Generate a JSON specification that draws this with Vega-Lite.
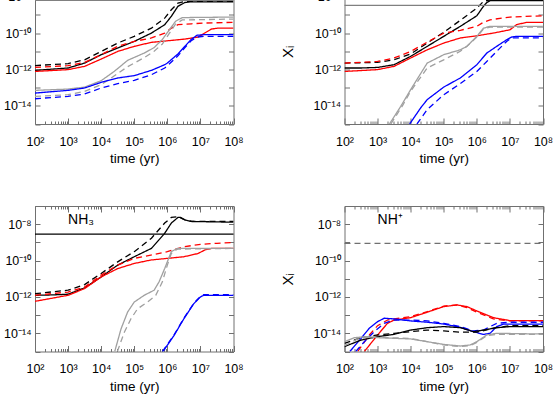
{
"$schema": "https://vega.github.io/schema/vega-lite/v6.json",
"autosize": {"type": "pad"},
"padding": {"left": 3, "top": -28.5, "right": 0, "bottom": 0},
"config": {"view": {"stroke": "#707070", "strokeWidth": 1}, "font": "Liberation Sans", "axis": {"titleFontWeight": "normal", "titleFont": "Liberation Sans", "labelFont": "Liberation Sans"}},
"datasets": {
"species": [
{"panel":"NH","species":"NH","Xobs":6.31e-9},
{"panel":"NH2","species":"NH₂","Xobs":3.31e-9},
{"panel":"NH3","species":"NH₃","Xobs":2.82e-9},
{"panel":"NH+","species":"NH⁺","Xobs":8.71e-10}
],
"curves": [
{"panel":"NH","model":"A","run":"a","t":100,"X":8.91e-13},{"panel":"NH","model":"A","run":"a","t":1000,"X":1.2e-12},{"panel":"NH","model":"A","run":"a","t":3162,"X":2.24e-12},{"panel":"NH","model":"A","run":"a","t":10000,"X":6.46e-12},{"panel":"NH","model":"A","run":"a","t":31623,"X":1.51e-11},{"panel":"NH","model":"A","run":"a","t":100000,"X":3.47e-11},{"panel":"NH","model":"A","run":"a","t":331000,"X":1e-10},{"panel":"NH","model":"A","run":"a","t":832000,"X":2.88e-10},{"panel":"NH","model":"A","run":"a","t":1320000,"X":8.32e-10},{"panel":"NH","model":"A","run":"a","t":2090000,"X":2.95e-9},{"panel":"NH","model":"A","run":"a","t":3390000,"X":4.79e-9},{"panel":"NH","model":"A","run":"a","t":5370000,"X":5.25e-9},{"panel":"NH","model":"A","run":"a","t":100000000,"X":5.25e-9},
{"panel":"NH","model":"A","run":"b","t":100,"X":1.62e-12},{"panel":"NH","model":"A","run":"b","t":1000,"X":2.09e-12},{"panel":"NH","model":"A","run":"b","t":3162,"X":3.39e-12},{"panel":"NH","model":"A","run":"b","t":10000,"X":9.77e-12},{"panel":"NH","model":"A","run":"b","t":31623,"X":2.82e-11},{"panel":"NH","model":"A","run":"b","t":100000,"X":6.61e-11},{"panel":"NH","model":"A","run":"b","t":331000,"X":1.86e-10},{"panel":"NH","model":"A","run":"b","t":832000,"X":6.61e-10},{"panel":"NH","model":"A","run":"b","t":1320000,"X":1.91e-9},{"panel":"NH","model":"A","run":"b","t":2090000,"X":4.47e-9},{"panel":"NH","model":"A","run":"b","t":3390000,"X":5.5e-9},{"panel":"NH","model":"A","run":"b","t":100000000,"X":5.5e-9},
{"panel":"NH","model":"B","run":"a","t":100,"X":7.76e-13},{"panel":"NH","model":"B","run":"a","t":1000,"X":9.77e-13},{"panel":"NH","model":"B","run":"a","t":3162,"X":1.48e-12},{"panel":"NH","model":"B","run":"a","t":10000,"X":3.72e-12},{"panel":"NH","model":"B","run":"a","t":31623,"X":9.77e-12},{"panel":"NH","model":"B","run":"a","t":100000,"X":1.86e-11},{"panel":"NH","model":"B","run":"a","t":331000,"X":3.09e-11},{"panel":"NH","model":"B","run":"a","t":832000,"X":3.63e-11},{"panel":"NH","model":"B","run":"a","t":3390000,"X":4.68e-11},{"panel":"NH","model":"B","run":"a","t":8510000,"X":6.03e-11},{"panel":"NH","model":"B","run":"a","t":13500000,"X":1e-10},{"panel":"NH","model":"B","run":"a","t":21400000,"X":1.66e-10},{"panel":"NH","model":"B","run":"a","t":33900000,"X":1.86e-10},{"panel":"NH","model":"B","run":"a","t":100000000,"X":1.86e-10},
{"panel":"NH","model":"B","run":"b","t":100,"X":1.29e-12},{"panel":"NH","model":"B","run":"b","t":1000,"X":1.62e-12},{"panel":"NH","model":"B","run":"b","t":3162,"X":2.45e-12},{"panel":"NH","model":"B","run":"b","t":10000,"X":6.46e-12},{"panel":"NH","model":"B","run":"b","t":31623,"X":1.86e-11},{"panel":"NH","model":"B","run":"b","t":100000,"X":3.47e-11},{"panel":"NH","model":"B","run":"b","t":331000,"X":5.37e-11},{"panel":"NH","model":"B","run":"b","t":832000,"X":1e-10},{"panel":"NH","model":"B","run":"b","t":1320000,"X":1.86e-10},{"panel":"NH","model":"B","run":"b","t":2090000,"X":2.88e-10},{"panel":"NH","model":"B","run":"b","t":5370000,"X":3.24e-10},{"panel":"NH","model":"B","run":"b","t":13500000,"X":3.55e-10},{"panel":"NH","model":"B","run":"b","t":100000000,"X":3.89e-10},
{"panel":"NH","model":"C","run":"a","t":100,"X":7.08e-14},{"panel":"NH","model":"C","run":"a","t":1000,"X":8.32e-14},{"panel":"NH","model":"C","run":"a","t":3162,"X":1.07e-13},{"panel":"NH","model":"C","run":"a","t":10000,"X":2.4e-13},{"panel":"NH","model":"C","run":"a","t":25119,"X":7.94e-13},{"panel":"NH","model":"C","run":"a","t":63096,"X":3.16e-12},{"panel":"NH","model":"C","run":"a","t":199526,"X":7.94e-12},{"panel":"NH","model":"C","run":"a","t":398107,"X":1.58e-11},{"panel":"NH","model":"C","run":"a","t":707946,"X":4.47e-11},{"panel":"NH","model":"C","run":"a","t":1120000,"X":1.41e-10},{"panel":"NH","model":"C","run":"a","t":1780000,"X":4.47e-10},{"panel":"NH","model":"C","run":"a","t":2820000,"X":7.08e-10},{"panel":"NH","model":"C","run":"a","t":100000000,"X":7.59e-10},
{"panel":"NH","model":"C","run":"b","t":100,"X":3.31e-14},{"panel":"NH","model":"C","run":"b","t":1000,"X":4.07e-14},{"panel":"NH","model":"C","run":"b","t":3162,"X":6.17e-14},{"panel":"NH","model":"C","run":"b","t":10000,"X":1.45e-13},{"panel":"NH","model":"C","run":"b","t":25119,"X":4.47e-13},{"panel":"NH","model":"C","run":"b","t":63096,"X":1.41e-12},{"panel":"NH","model":"C","run":"b","t":199526,"X":4.47e-12},{"panel":"NH","model":"C","run":"b","t":398107,"X":1e-11},{"panel":"NH","model":"C","run":"b","t":707946,"X":2.51e-11},{"panel":"NH","model":"C","run":"b","t":1120000,"X":8.91e-11},{"panel":"NH","model":"C","run":"b","t":1780000,"X":3.16e-10},{"panel":"NH","model":"C","run":"b","t":2820000,"X":5.25e-10},{"panel":"NH","model":"C","run":"b","t":100000000,"X":5.89e-10},
{"panel":"NH","model":"D","run":"a","t":100,"X":5.01e-14},{"panel":"NH","model":"D","run":"a","t":1000,"X":7.08e-14},{"panel":"NH","model":"D","run":"a","t":3162,"X":9.55e-14},{"panel":"NH","model":"D","run":"a","t":10000,"X":1.95e-13},{"panel":"NH","model":"D","run":"a","t":31623,"X":3.39e-13},{"panel":"NH","model":"D","run":"a","t":100000,"X":4.57e-13},{"panel":"NH","model":"D","run":"a","t":331000,"X":8.91e-13},{"panel":"NH","model":"D","run":"a","t":832000,"X":1.82e-12},{"panel":"NH","model":"D","run":"a","t":1000000,"X":2.24e-12},{"panel":"NH","model":"D","run":"a","t":2090000,"X":7.08e-12},{"panel":"NH","model":"D","run":"a","t":3310000,"X":1.78e-11},{"panel":"NH","model":"D","run":"a","t":5250000,"X":4.47e-11},{"panel":"NH","model":"D","run":"a","t":7940000,"X":7.59e-11},{"panel":"NH","model":"D","run":"a","t":12600000,"X":8.13e-11},{"panel":"NH","model":"D","run":"a","t":100000000,"X":8.13e-11},
{"panel":"NH","model":"D","run":"b","t":100,"X":2.45e-14},{"panel":"NH","model":"D","run":"b","t":1000,"X":3.31e-14},{"panel":"NH","model":"D","run":"b","t":3162,"X":4.47e-14},{"panel":"NH","model":"D","run":"b","t":10000,"X":9.55e-14},{"panel":"NH","model":"D","run":"b","t":31623,"X":1.66e-13},{"panel":"NH","model":"D","run":"b","t":100000,"X":2.51e-13},{"panel":"NH","model":"D","run":"b","t":331000,"X":5.13e-13},{"panel":"NH","model":"D","run":"b","t":832000,"X":1.2e-12},{"panel":"NH","model":"D","run":"b","t":1000000,"X":1.58e-12},{"panel":"NH","model":"D","run":"b","t":2090000,"X":5.62e-12},{"panel":"NH","model":"D","run":"b","t":3310000,"X":1.51e-11},{"panel":"NH","model":"D","run":"b","t":5250000,"X":3.8e-11},{"panel":"NH","model":"D","run":"b","t":7940000,"X":6.03e-11},{"panel":"NH","model":"D","run":"b","t":12600000,"X":6.61e-11},{"panel":"NH","model":"D","run":"b","t":100000000,"X":6.61e-11},

{"panel":"NH2","model":"A","run":"a","t":100,"X":1.2e-12},{"panel":"NH2","model":"A","run":"a","t":316,"X":1.2e-12},{"panel":"NH2","model":"A","run":"a","t":1000,"X":1.29e-12},{"panel":"NH2","model":"A","run":"a","t":3162,"X":1.82e-12},{"panel":"NH2","model":"A","run":"a","t":10000,"X":5.25e-12},{"panel":"NH2","model":"A","run":"a","t":31623,"X":1.86e-11},{"panel":"NH2","model":"A","run":"a","t":100000,"X":6.61e-11},{"panel":"NH2","model":"A","run":"a","t":316228,"X":2.34e-10},{"panel":"NH2","model":"A","run":"a","t":1000000,"X":8.91e-10},{"panel":"NH2","model":"A","run":"a","t":1580000,"X":2.95e-9},{"panel":"NH2","model":"A","run":"a","t":2000000,"X":4.79e-9},{"panel":"NH2","model":"A","run":"a","t":2510000,"X":6.03e-9},{"panel":"NH2","model":"A","run":"a","t":100000000,"X":6.03e-9},
{"panel":"NH2","model":"A","run":"b","t":100,"X":2.24e-12},{"panel":"NH2","model":"A","run":"b","t":1000,"X":2.45e-12},{"panel":"NH2","model":"A","run":"b","t":3162,"X":3.39e-12},{"panel":"NH2","model":"A","run":"b","t":10000,"X":7.08e-12},{"panel":"NH2","model":"A","run":"b","t":31623,"X":2.82e-11},{"panel":"NH2","model":"A","run":"b","t":100000,"X":1.1e-10},{"panel":"NH2","model":"A","run":"b","t":316228,"X":5.01e-10},{"panel":"NH2","model":"A","run":"b","t":1000000,"X":2.34e-9},{"panel":"NH2","model":"A","run":"b","t":1580000,"X":5.5e-9},{"panel":"NH2","model":"A","run":"b","t":2510000,"X":6.76e-9},{"panel":"NH2","model":"A","run":"b","t":100000000,"X":6.76e-9},
{"panel":"NH2","model":"B","run":"a","t":100,"X":7.76e-13},{"panel":"NH2","model":"B","run":"a","t":1000,"X":9.77e-13},{"panel":"NH2","model":"B","run":"a","t":3162,"X":1.48e-12},{"panel":"NH2","model":"B","run":"a","t":10000,"X":4.27e-12},{"panel":"NH2","model":"B","run":"a","t":31623,"X":1.2e-11},{"panel":"NH2","model":"B","run":"a","t":100000,"X":2.82e-11},{"panel":"NH2","model":"B","run":"a","t":316228,"X":5.37e-11},{"panel":"NH2","model":"B","run":"a","t":1000000,"X":7.08e-11},{"panel":"NH2","model":"B","run":"a","t":3160000,"X":1e-10},{"panel":"NH2","model":"B","run":"a","t":10000000,"X":1.51e-10},{"panel":"NH2","model":"B","run":"a","t":15800000,"X":2.88e-10},{"panel":"NH2","model":"B","run":"a","t":31600000,"X":3.89e-10},{"panel":"NH2","model":"B","run":"a","t":100000000,"X":3.89e-10},
{"panel":"NH2","model":"B","run":"b","t":100,"X":2.24e-12},{"panel":"NH2","model":"B","run":"b","t":1000,"X":2.75e-12},{"panel":"NH2","model":"B","run":"b","t":3162,"X":4.27e-12},{"panel":"NH2","model":"B","run":"b","t":10000,"X":9.77e-12},{"panel":"NH2","model":"B","run":"b","t":31623,"X":3.16e-11},{"panel":"NH2","model":"B","run":"b","t":100000,"X":1e-10},{"panel":"NH2","model":"B","run":"b","t":316228,"X":1.41e-10},{"panel":"NH2","model":"B","run":"b","t":1000000,"X":2.34e-10},{"panel":"NH2","model":"B","run":"b","t":1580000,"X":3.89e-10},{"panel":"NH2","model":"B","run":"b","t":2510000,"X":5.37e-10},{"panel":"NH2","model":"B","run":"b","t":10000000,"X":7.59e-10},{"panel":"NH2","model":"B","run":"b","t":100000000,"X":8.91e-10},
{"panel":"NH2","model":"C","run":"a","t":2291,"X":1e-15},{"panel":"NH2","model":"C","run":"a","t":5012,"X":9.33e-15},{"panel":"NH2","model":"C","run":"a","t":10000,"X":7.76e-14},{"panel":"NH2","model":"C","run":"a","t":31623,"X":2.24e-12},{"panel":"NH2","model":"C","run":"a","t":100000,"X":6.46e-12},{"panel":"NH2","model":"C","run":"a","t":316228,"X":1.2e-11},{"panel":"NH2","model":"C","run":"a","t":501187,"X":1.86e-11},{"panel":"NH2","model":"C","run":"a","t":1000000,"X":6.61e-11},{"panel":"NH2","model":"C","run":"a","t":1580000,"X":1.86e-10},{"panel":"NH2","model":"C","run":"a","t":2510000,"X":2.34e-10},{"panel":"NH2","model":"C","run":"a","t":100000000,"X":2.34e-10},
{"panel":"NH2","model":"C","run":"b","t":2512,"X":1e-15},{"panel":"NH2","model":"C","run":"b","t":5623,"X":1e-14},{"panel":"NH2","model":"C","run":"b","t":10000,"X":6.31e-14},{"panel":"NH2","model":"C","run":"b","t":31623,"X":1.2e-12},{"panel":"NH2","model":"C","run":"b","t":100000,"X":3.39e-12},{"panel":"NH2","model":"C","run":"b","t":316228,"X":1e-11},{"panel":"NH2","model":"C","run":"b","t":501187,"X":1.86e-11},{"panel":"NH2","model":"C","run":"b","t":1000000,"X":6.03e-11},{"panel":"NH2","model":"C","run":"b","t":1580000,"X":1.66e-10},{"panel":"NH2","model":"C","run":"b","t":2510000,"X":2.14e-10},{"panel":"NH2","model":"C","run":"b","t":100000000,"X":2.14e-10},
{"panel":"NH2","model":"D","run":"a","t":9333,"X":1e-15},{"panel":"NH2","model":"D","run":"a","t":19953,"X":7.59e-15},{"panel":"NH2","model":"D","run":"a","t":31623,"X":2.19e-14},{"panel":"NH2","model":"D","run":"a","t":100000,"X":1.07e-13},{"panel":"NH2","model":"D","run":"a","t":316228,"X":3.39e-13},{"panel":"NH2","model":"D","run":"a","t":1000000,"X":1.82e-12},{"panel":"NH2","model":"D","run":"a","t":2000000,"X":7.94e-12},{"panel":"NH2","model":"D","run":"a","t":3980000,"X":1.86e-11},{"panel":"NH2","model":"D","run":"a","t":7940000,"X":4.27e-11},{"panel":"NH2","model":"D","run":"a","t":11200000,"X":6.03e-11},{"panel":"NH2","model":"D","run":"a","t":15800000,"X":6.61e-11},{"panel":"NH2","model":"D","run":"a","t":100000000,"X":6.61e-11},
{"panel":"NH2","model":"D","run":"b","t":15488,"X":1e-15},{"panel":"NH2","model":"D","run":"b","t":31623,"X":6.17e-15},{"panel":"NH2","model":"D","run":"b","t":100000,"X":4.07e-14},{"panel":"NH2","model":"D","run":"b","t":316228,"X":1.66e-13},{"panel":"NH2","model":"D","run":"b","t":1000000,"X":7.76e-13},{"panel":"NH2","model":"D","run":"b","t":2000000,"X":2.75e-12},{"panel":"NH2","model":"D","run":"b","t":3980000,"X":9.77e-12},{"panel":"NH2","model":"D","run":"b","t":7940000,"X":3.47e-11},{"panel":"NH2","model":"D","run":"b","t":11200000,"X":5.37e-11},{"panel":"NH2","model":"D","run":"b","t":100000000,"X":5.37e-11},

{"panel":"NH3","model":"A","run":"a","t":100,"X":1.23e-12},{"panel":"NH3","model":"A","run":"a","t":316,"X":1.29e-12},{"panel":"NH3","model":"A","run":"a","t":1000,"X":1.41e-12},{"panel":"NH3","model":"A","run":"a","t":3162,"X":3.16e-12},{"panel":"NH3","model":"A","run":"a","t":10000,"X":1.26e-11},{"panel":"NH3","model":"A","run":"a","t":31623,"X":5.62e-11},{"panel":"NH3","model":"A","run":"a","t":100000,"X":1.62e-10},{"panel":"NH3","model":"A","run":"a","t":331000,"X":4.68e-10},{"panel":"NH3","model":"A","run":"a","t":832000,"X":3.16e-9},{"panel":"NH3","model":"A","run":"a","t":1320000,"X":1.15e-8},{"panel":"NH3","model":"A","run":"a","t":2090000,"X":2.34e-8},{"panel":"NH3","model":"A","run":"a","t":2510000,"X":2.34e-8},{"panel":"NH3","model":"A","run":"a","t":3390000,"X":1.74e-8},{"panel":"NH3","model":"A","run":"a","t":5370000,"X":1.41e-8},{"panel":"NH3","model":"A","run":"a","t":100000000,"X":1.29e-8},
{"panel":"NH3","model":"A","run":"b","t":100,"X":1.51e-12},{"panel":"NH3","model":"A","run":"b","t":1000,"X":2.34e-12},{"panel":"NH3","model":"A","run":"b","t":3162,"X":4.79e-12},{"panel":"NH3","model":"A","run":"b","t":10000,"X":1.95e-11},{"panel":"NH3","model":"A","run":"b","t":31623,"X":8.51e-11},{"panel":"NH3","model":"A","run":"b","t":100000,"X":3.09e-10},{"panel":"NH3","model":"A","run":"b","t":331000,"X":1.7e-9},{"panel":"NH3","model":"A","run":"b","t":832000,"X":1.15e-8},{"panel":"NH3","model":"A","run":"b","t":1320000,"X":2.34e-8},{"panel":"NH3","model":"A","run":"b","t":2090000,"X":2.57e-8},{"panel":"NH3","model":"A","run":"b","t":3390000,"X":1.74e-8},{"panel":"NH3","model":"A","run":"b","t":5370000,"X":1.41e-8},{"panel":"NH3","model":"A","run":"b","t":100000000,"X":1.41e-8},
{"panel":"NH3","model":"B","run":"a","t":100,"X":5.75e-13},{"panel":"NH3","model":"B","run":"a","t":1000,"X":1.23e-12},{"panel":"NH3","model":"B","run":"a","t":3162,"X":2.88e-12},{"panel":"NH3","model":"B","run":"a","t":10000,"X":1.26e-11},{"panel":"NH3","model":"B","run":"a","t":31623,"X":3.63e-11},{"panel":"NH3","model":"B","run":"a","t":100000,"X":6.92e-11},{"panel":"NH3","model":"B","run":"a","t":316228,"X":1.07e-10},{"panel":"NH3","model":"B","run":"a","t":1000000,"X":1.32e-10},{"panel":"NH3","model":"B","run":"a","t":3160000,"X":1.62e-10},{"panel":"NH3","model":"B","run":"a","t":8510000,"X":2.45e-10},{"panel":"NH3","model":"B","run":"a","t":13500000,"X":3.8e-10},{"panel":"NH3","model":"B","run":"a","t":21400000,"X":4.68e-10},{"panel":"NH3","model":"B","run":"a","t":100000000,"X":4.68e-10},
{"panel":"NH3","model":"B","run":"b","t":100,"X":1.23e-12},{"panel":"NH3","model":"B","run":"b","t":1000,"X":1.86e-12},{"panel":"NH3","model":"B","run":"b","t":3162,"X":3.55e-12},{"panel":"NH3","model":"B","run":"b","t":10000,"X":1.58e-11},{"panel":"NH3","model":"B","run":"b","t":31623,"X":5.62e-11},{"panel":"NH3","model":"B","run":"b","t":100000,"X":1.32e-10},{"panel":"NH3","model":"B","run":"b","t":316228,"X":2e-10},{"panel":"NH3","model":"B","run":"b","t":1000000,"X":3.09e-10},{"panel":"NH3","model":"B","run":"b","t":3160000,"X":5.75e-10},{"panel":"NH3","model":"B","run":"b","t":10000000,"X":7.76e-10},{"panel":"NH3","model":"B","run":"b","t":31600000,"X":8.91e-10},{"panel":"NH3","model":"B","run":"b","t":100000000,"X":9.77e-10},
{"panel":"NH3","model":"C","run":"a","t":25704,"X":1e-15},{"panel":"NH3","model":"C","run":"a","t":39811,"X":1.74e-14},{"panel":"NH3","model":"C","run":"a","t":63096,"X":1.48e-13},{"panel":"NH3","model":"C","run":"a","t":100000,"X":5.25e-13},{"panel":"NH3","model":"C","run":"a","t":199526,"X":1.23e-12},{"panel":"NH3","model":"C","run":"a","t":398107,"X":2.34e-12},{"panel":"NH3","model":"C","run":"a","t":562341,"X":6.76e-12},{"panel":"NH3","model":"C","run":"a","t":832000,"X":3.63e-11},{"panel":"NH3","model":"C","run":"a","t":1320000,"X":3.09e-10},{"panel":"NH3","model":"C","run":"a","t":2000000,"X":4.68e-10},{"panel":"NH3","model":"C","run":"a","t":100000000,"X":4.68e-10},
{"panel":"NH3","model":"C","run":"b","t":30903,"X":1e-15},{"panel":"NH3","model":"C","run":"b","t":50119,"X":1.15e-14},{"panel":"NH3","model":"C","run":"b","t":79433,"X":6.31e-14},{"panel":"NH3","model":"C","run":"b","t":125893,"X":2.24e-13},{"panel":"NH3","model":"C","run":"b","t":251189,"X":5.25e-13},{"panel":"NH3","model":"C","run":"b","t":446684,"X":1.23e-12},{"panel":"NH3","model":"C","run":"b","t":707946,"X":6.76e-12},{"panel":"NH3","model":"C","run":"b","t":1000000,"X":5.62e-11},{"panel":"NH3","model":"C","run":"b","t":1320000,"X":2.45e-10},{"panel":"NH3","model":"C","run":"b","t":2000000,"X":4.27e-10},{"panel":"NH3","model":"C","run":"b","t":100000000,"X":4.68e-10},
{"panel":"NH3","model":"D","run":"a","t":741310,"X":1e-15},{"panel":"NH3","model":"D","run":"a","t":1580000,"X":7.41e-15},{"panel":"NH3","model":"D","run":"a","t":3160000,"X":6.31e-14},{"panel":"NH3","model":"D","run":"a","t":6310000,"X":4.27e-13},{"panel":"NH3","model":"D","run":"a","t":10000000,"X":1e-12},{"panel":"NH3","model":"D","run":"a","t":12600000,"X":1.23e-12},{"panel":"NH3","model":"D","run":"a","t":100000000,"X":1.23e-12},
{"panel":"NH3","model":"D","run":"b","t":707946,"X":1e-15},{"panel":"NH3","model":"D","run":"b","t":1580000,"X":7.94e-15},{"panel":"NH3","model":"D","run":"b","t":3160000,"X":6.76e-14},{"panel":"NH3","model":"D","run":"b","t":6310000,"X":4.47e-13},{"panel":"NH3","model":"D","run":"b","t":10000000,"X":1.07e-12},{"panel":"NH3","model":"D","run":"b","t":12600000,"X":1.32e-12},{"panel":"NH3","model":"D","run":"b","t":100000000,"X":1.32e-12},

{"panel":"NH+","model":"B","run":"a","t":398,"X":1e-15},{"panel":"NH+","model":"B","run":"a","t":1000,"X":8.13e-15},{"panel":"NH+","model":"B","run":"a","t":1995,"X":3.55e-14},{"panel":"NH+","model":"B","run":"a","t":3162,"X":5.37e-14},{"panel":"NH+","model":"B","run":"a","t":10000,"X":7.24e-14},{"panel":"NH+","model":"B","run":"a","t":31623,"X":1.45e-13},{"panel":"NH+","model":"B","run":"a","t":100000,"X":2.95e-13},{"panel":"NH+","model":"B","run":"a","t":251189,"X":3.63e-13},{"panel":"NH+","model":"B","run":"a","t":501187,"X":2.95e-13},{"panel":"NH+","model":"B","run":"a","t":1000000,"X":1.7e-13},{"panel":"NH+","model":"B","run":"a","t":3160000,"X":7.24e-14},{"panel":"NH+","model":"B","run":"a","t":10000000,"X":5.01e-14},{"panel":"NH+","model":"B","run":"a","t":100000000,"X":5.01e-14},
{"panel":"NH+","model":"B","run":"b","t":251,"X":1e-15},{"panel":"NH+","model":"B","run":"b","t":562,"X":8.13e-15},{"panel":"NH+","model":"B","run":"b","t":1000,"X":2.63e-14},{"panel":"NH+","model":"B","run":"b","t":1995,"X":5.37e-14},{"panel":"NH+","model":"B","run":"b","t":3162,"X":6.17e-14},{"panel":"NH+","model":"B","run":"b","t":10000,"X":8.32e-14},{"panel":"NH+","model":"B","run":"b","t":31623,"X":1.55e-13},{"panel":"NH+","model":"B","run":"b","t":100000,"X":3.16e-13},{"panel":"NH+","model":"B","run":"b","t":251189,"X":3.63e-13},{"panel":"NH+","model":"B","run":"b","t":501187,"X":2.57e-13},{"panel":"NH+","model":"B","run":"b","t":1000000,"X":1.45e-13},{"panel":"NH+","model":"B","run":"b","t":3160000,"X":6.17e-14},{"panel":"NH+","model":"B","run":"b","t":10000000,"X":4.79e-14},{"panel":"NH+","model":"B","run":"b","t":100000000,"X":4.79e-14},
{"panel":"NH+","model":"D","run":"a","t":145,"X":1e-15},{"panel":"NH+","model":"D","run":"a","t":316,"X":5.25e-15},{"panel":"NH+","model":"D","run":"a","t":562,"X":1.91e-14},{"panel":"NH+","model":"D","run":"a","t":1000,"X":4.37e-14},{"panel":"NH+","model":"D","run":"a","t":1585,"X":6.76e-14},{"panel":"NH+","model":"D","run":"a","t":3162,"X":6.17e-14},{"panel":"NH+","model":"D","run":"a","t":10000,"X":4.79e-14},{"panel":"NH+","model":"D","run":"a","t":31623,"X":4.07e-14},{"panel":"NH+","model":"D","run":"a","t":100000,"X":3.24e-14},{"panel":"NH+","model":"D","run":"a","t":316228,"X":2.14e-14},{"panel":"NH+","model":"D","run":"a","t":794328,"X":1.23e-14},{"panel":"NH+","model":"D","run":"a","t":1580000,"X":8.71e-15},{"panel":"NH+","model":"D","run":"a","t":2510000,"X":1e-14},{"panel":"NH+","model":"D","run":"a","t":3980000,"X":2.34e-14},{"panel":"NH+","model":"D","run":"a","t":6310000,"X":3.16e-14},{"panel":"NH+","model":"D","run":"a","t":100000000,"X":3.16e-14},
{"panel":"NH+","model":"D","run":"b","t":219,"X":1e-15},{"panel":"NH+","model":"D","run":"b","t":398,"X":3.47e-15},{"panel":"NH+","model":"D","run":"b","t":794,"X":1.23e-14},{"panel":"NH+","model":"D","run":"b","t":1585,"X":3.55e-14},{"panel":"NH+","model":"D","run":"b","t":3162,"X":5.37e-14},{"panel":"NH+","model":"D","run":"b","t":10000,"X":5.37e-14},{"panel":"NH+","model":"D","run":"b","t":31623,"X":4.79e-14},{"panel":"NH+","model":"D","run":"b","t":100000,"X":3.55e-14},{"panel":"NH+","model":"D","run":"b","t":316228,"X":2.34e-14},{"panel":"NH+","model":"D","run":"b","t":794328,"X":1.35e-14},{"panel":"NH+","model":"D","run":"b","t":1580000,"X":1.51e-14},{"panel":"NH+","model":"D","run":"b","t":2510000,"X":2.34e-14},{"panel":"NH+","model":"D","run":"b","t":3980000,"X":3.55e-14},{"panel":"NH+","model":"D","run":"b","t":10000000,"X":4.07e-14},{"panel":"NH+","model":"D","run":"b","t":100000000,"X":4.07e-14},
{"panel":"NH+","model":"A","run":"a","t":100,"X":1.86e-15},{"panel":"NH+","model":"A","run":"a","t":316,"X":4.27e-15},{"panel":"NH+","model":"A","run":"a","t":1000,"X":6.61e-15},{"panel":"NH+","model":"A","run":"a","t":3162,"X":8.71e-15},{"panel":"NH+","model":"A","run":"a","t":10000,"X":1.51e-14},{"panel":"NH+","model":"A","run":"a","t":31623,"X":2.04e-14},{"panel":"NH+","model":"A","run":"a","t":100000,"X":2.34e-14},{"panel":"NH+","model":"A","run":"a","t":316228,"X":2.04e-14},{"panel":"NH+","model":"A","run":"a","t":794328,"X":1.23e-14},{"panel":"NH+","model":"A","run":"a","t":1580000,"X":1.51e-14},{"panel":"NH+","model":"A","run":"a","t":3980000,"X":2.04e-14},{"panel":"NH+","model":"A","run":"a","t":10000000,"X":2.34e-14},{"panel":"NH+","model":"A","run":"a","t":100000000,"X":2.34e-14},
{"panel":"NH+","model":"A","run":"b","t":100,"X":2.82e-15},{"panel":"NH+","model":"A","run":"b","t":316,"X":5.75e-15},{"panel":"NH+","model":"A","run":"b","t":1000,"X":8.13e-15},{"panel":"NH+","model":"A","run":"b","t":3162,"X":1e-14},{"panel":"NH+","model":"A","run":"b","t":10000,"X":1.23e-14},{"panel":"NH+","model":"A","run":"b","t":31623,"X":1.51e-14},{"panel":"NH+","model":"A","run":"b","t":100000,"X":1.35e-14},{"panel":"NH+","model":"A","run":"b","t":316228,"X":1.15e-14},{"panel":"NH+","model":"A","run":"b","t":1000000,"X":1.15e-14},{"panel":"NH+","model":"A","run":"b","t":3160000,"X":1.91e-14},{"panel":"NH+","model":"A","run":"b","t":10000000,"X":2.63e-14},{"panel":"NH+","model":"A","run":"b","t":100000000,"X":2.63e-14},
{"panel":"NH+","model":"C","run":"a","t":100,"X":3.47e-15},{"panel":"NH+","model":"C","run":"a","t":200,"X":5.75e-15},{"panel":"NH+","model":"C","run":"a","t":501,"X":6.61e-15},{"panel":"NH+","model":"C","run":"a","t":1000,"X":5.75e-15},{"panel":"NH+","model":"C","run":"a","t":10000,"X":4.9e-15},{"panel":"NH+","model":"C","run":"a","t":31623,"X":3.47e-15},{"panel":"NH+","model":"C","run":"a","t":100000,"X":2.45e-15},{"panel":"NH+","model":"C","run":"a","t":316228,"X":2e-15},{"panel":"NH+","model":"C","run":"a","t":630957,"X":2.29e-15},{"panel":"NH+","model":"C","run":"a","t":1000000,"X":3.47e-15},{"panel":"NH+","model":"C","run":"a","t":2000000,"X":8.13e-15},{"panel":"NH+","model":"C","run":"a","t":3980000,"X":1e-14},{"panel":"NH+","model":"C","run":"a","t":100000000,"X":9.12e-15},
{"panel":"NH+","model":"C","run":"b","t":100,"X":2.09e-15},{"panel":"NH+","model":"C","run":"b","t":251,"X":4.9e-15},{"panel":"NH+","model":"C","run":"b","t":631,"X":6.61e-15},{"panel":"NH+","model":"C","run":"b","t":1000,"X":6.03e-15},{"panel":"NH+","model":"C","run":"b","t":10000,"X":5.25e-15},{"panel":"NH+","model":"C","run":"b","t":31623,"X":3.47e-15},{"panel":"NH+","model":"C","run":"b","t":100000,"X":2.29e-15},{"panel":"NH+","model":"C","run":"b","t":316228,"X":1.86e-15},{"panel":"NH+","model":"C","run":"b","t":630957,"X":2.09e-15},{"panel":"NH+","model":"C","run":"b","t":1000000,"X":3.16e-15},{"panel":"NH+","model":"C","run":"b","t":2000000,"X":7.41e-15},{"panel":"NH+","model":"C","run":"b","t":3980000,"X":8.71e-15},{"panel":"NH+","model":"C","run":"b","t":100000000,"X":8.71e-15}
]
},
"columns": 2,
"spacing": {"row": 81.5, "column": 110.5},
"bounds": "flush",
"concat": [
{
"width": 198.5, "height": 145.5,
"layer": [
{"data": {"name": "curves"}, "transform": [{"filter": "datum.panel === 'NH'"}],
 "mark": {"type": "line", "strokeWidth": 1.3, "clip": true},
 "encoding": {
  "x": {"field": "t", "type": "quantitative", "scale": {"type": "log", "domain": [100, 100000000]},
   "axis": {"orient": "bottom", "values": [100,200,300,400,500,600,700,800,900,1000,2000,3000,4000,5000,6000,7000,8000,9000,10000,20000,30000,40000,50000,60000,70000,80000,90000,100000,200000,300000,400000,500000,600000,700000,800000,900000,1000000,2000000,3000000,4000000,5000000,6000000,7000000,8000000,9000000,10000000,20000000,30000000,40000000,50000000,60000000,70000000,80000000,90000000,100000000],
    "labelExpr": "abs(log(datum.value)/LN10 - round(log(datum.value)/LN10)) < 0.01 ? '10' + ['⁰','¹','²','³','⁴','⁵','⁶','⁷','⁸'][round(log(datum.value)/LN10)] : ''",
    "tickSize": {"condition": {"test": "abs(log(datum.value)/LN10 - round(log(datum.value)/LN10)) < 0.01", "value": -6}, "value": -3},
    "tickColor": "#707070", "domain": false, "grid": false, "labelPadding": 17, "labelFontSize": 12.5, "labelColor": "#000", "labelOverlap": false, "labelFlush": false, "labelBound": false,
    "title": "time  (yr)", "titleFontSize": 13.5, "titleFontWeight": "normal", "titleColor": "#000", "titlePadding": 1}},
  "y": {"field": "X", "type": "quantitative", "scale": {"type": "log", "domain": [1e-15, 1e-7]},
   "axis": {"orient": "left", "values": [1e-15,1e-14,1e-13,1e-12,1e-11,1e-10,1e-9,1e-8,1e-7],
    "labelExpr": "round(log(datum.value)/LN10) == -14 ? '10⁻¹⁴' : round(log(datum.value)/LN10) == -12 ? '10⁻¹²' : round(log(datum.value)/LN10) == -10 ? '10⁻¹⁰' : round(log(datum.value)/LN10) == -8 ? '10⁻⁸' : ''",
    "tickSize": -5, "tickColor": "#707070", "domain": false, "grid": false, "labelPadding": 9, "labelFontSize": 12.5, "labelColor": "#000", "labelOverlap": false, "labelFlush": false, "labelBound": false, "title": null}},
  "color": {"field": "model", "type": "nominal", "scale": {"domain": ["A","B","C","D"], "range": ["#000000","#ff0000","#a0a0a0","#0000ff"]}, "legend": null},
  "strokeDash": {"field": "run", "type": "nominal", "scale": {"domain": ["a","b"], "range": [[1,0],[6,4]]}, "legend": null}
 }},
{"data": {"name": "species"}, "transform": [{"filter": "datum.panel === 'NH'"}],
 "mark": {"type": "rule", "color": "#808080", "strokeWidth": 1.3},
 "encoding": {
  "x": {"datum": 100, "type": "quantitative", "axis": {"orient": "top", "values": [100,200,300,400,500,600,700,800,900,1000,2000,3000,4000,5000,6000,7000,8000,9000,10000,20000,30000,40000,50000,60000,70000,80000,90000,100000,200000,300000,400000,500000,600000,700000,800000,900000,1000000,2000000,3000000,4000000,5000000,6000000,7000000,8000000,9000000,10000000,20000000,30000000,40000000,50000000,60000000,70000000,80000000,90000000,100000000], "labels": false, "domain": false, "grid": false, "title": null, "tickColor": "#707070", "tickSize": {"condition": {"test": "abs(log(datum.value)/LN10 - round(log(datum.value)/LN10)) < 0.01", "value": -6}, "value": -3}}},
  "x2": {"datum": 100000000},
  "y": {"field": "Xobs", "type": "quantitative", "axis": {"orient": "right", "values": [1e-15,1e-14,1e-13,1e-12,1e-11,1e-10,1e-9,1e-8,1e-7], "labels": false, "domain": false, "grid": false, "title": null, "tickColor": "#707070", "tickSize": -5}}
 }},
{"data": {"name": "species"}, "transform": [{"filter": "datum.panel === 'NH'"}],
 "mark": {"type": "text", "align": "left", "baseline": "middle", "fontSize": 14, "color": "#000"},
 "encoding": {
  "x": {"datum": 1000, "type": "quantitative", "axis": null},
  "y": {"datum": 1.6e-8, "type": "quantitative", "axis": null},
  "text": {"field": "species"}
 }}
],
"resolve": {"axis": {"x": "independent", "y": "independent"}}
},
{
"width": 198.5, "height": 145.5,
"layer": [
{"data": {"name": "curves"}, "transform": [{"filter": "datum.panel === 'NH2'"}],
 "mark": {"type": "line", "strokeWidth": 1.3, "clip": true},
 "encoding": {
  "x": {"field": "t", "type": "quantitative", "scale": {"type": "log", "domain": [100, 100000000]},
   "axis": {"orient": "bottom", "values": [100,200,300,400,500,600,700,800,900,1000,2000,3000,4000,5000,6000,7000,8000,9000,10000,20000,30000,40000,50000,60000,70000,80000,90000,100000,200000,300000,400000,500000,600000,700000,800000,900000,1000000,2000000,3000000,4000000,5000000,6000000,7000000,8000000,9000000,10000000,20000000,30000000,40000000,50000000,60000000,70000000,80000000,90000000,100000000],
    "labelExpr": "abs(log(datum.value)/LN10 - round(log(datum.value)/LN10)) < 0.01 ? '10' + ['⁰','¹','²','³','⁴','⁵','⁶','⁷','⁸'][round(log(datum.value)/LN10)] : ''",
    "tickSize": {"condition": {"test": "abs(log(datum.value)/LN10 - round(log(datum.value)/LN10)) < 0.01", "value": -6}, "value": -3},
    "tickColor": "#707070", "domain": false, "grid": false, "labelPadding": 17, "labelFontSize": 12.5, "labelColor": "#000", "labelOverlap": false, "labelFlush": false, "labelBound": false,
    "title": "time  (yr)", "titleFontSize": 13.5, "titleFontWeight": "normal", "titleColor": "#000", "titlePadding": 1}},
  "y": {"field": "X", "type": "quantitative", "scale": {"type": "log", "domain": [1e-15, 1e-7]},
   "axis": {"orient": "left", "values": [1e-15,1e-14,1e-13,1e-12,1e-11,1e-10,1e-9,1e-8,1e-7],
    "labelExpr": "round(log(datum.value)/LN10) == -14 ? '10⁻¹⁴' : round(log(datum.value)/LN10) == -12 ? '10⁻¹²' : round(log(datum.value)/LN10) == -10 ? '10⁻¹⁰' : round(log(datum.value)/LN10) == -8 ? '10⁻⁸' : ''",
    "tickSize": -5, "tickColor": "#707070", "domain": false, "grid": false, "labelPadding": 9, "labelFontSize": 12.5, "labelColor": "#000", "labelOverlap": false, "labelFlush": false, "labelBound": false,
    "title": "Xᵢ", "titleFontSize": 15, "titleFontWeight": "normal", "titleColor": "#000", "titlePadding": 18}},
  "color": {"field": "model", "type": "nominal", "scale": {"domain": ["A","B","C","D"], "range": ["#000000","#ff0000","#a0a0a0","#0000ff"]}, "legend": null},
  "strokeDash": {"field": "run", "type": "nominal", "scale": {"domain": ["a","b"], "range": [[1,0],[6,4]]}, "legend": null}
 }},
{"data": {"name": "species"}, "transform": [{"filter": "datum.panel === 'NH2'"}],
 "mark": {"type": "rule", "color": "#808080", "strokeWidth": 1.3},
 "encoding": {
  "x": {"datum": 100, "type": "quantitative", "axis": {"orient": "top", "values": [100,200,300,400,500,600,700,800,900,1000,2000,3000,4000,5000,6000,7000,8000,9000,10000,20000,30000,40000,50000,60000,70000,80000,90000,100000,200000,300000,400000,500000,600000,700000,800000,900000,1000000,2000000,3000000,4000000,5000000,6000000,7000000,8000000,9000000,10000000,20000000,30000000,40000000,50000000,60000000,70000000,80000000,90000000,100000000], "labels": false, "domain": false, "grid": false, "title": null, "tickColor": "#707070", "tickSize": {"condition": {"test": "abs(log(datum.value)/LN10 - round(log(datum.value)/LN10)) < 0.01", "value": -6}, "value": -3}}},
  "x2": {"datum": 100000000},
  "y": {"field": "Xobs", "type": "quantitative", "axis": {"orient": "right", "values": [1e-15,1e-14,1e-13,1e-12,1e-11,1e-10,1e-9,1e-8,1e-7], "labels": false, "domain": false, "grid": false, "title": null, "tickColor": "#707070", "tickSize": -5}}
 }},
{"data": {"name": "species"}, "transform": [{"filter": "datum.panel === 'NH2'"}],
 "mark": {"type": "text", "align": "left", "baseline": "middle", "fontSize": 14, "color": "#000"},
 "encoding": {
  "x": {"datum": 1000, "type": "quantitative", "axis": null},
  "y": {"datum": 1.6e-8, "type": "quantitative", "axis": null},
  "text": {"field": "species"}
 }}
],
"resolve": {"axis": {"x": "independent", "y": "independent"}}
},
{
"width": 198.5, "height": 145.5,
"layer": [
{"data": {"name": "curves"}, "transform": [{"filter": "datum.panel === 'NH3'"}],
 "mark": {"type": "line", "strokeWidth": 1.3, "clip": true},
 "encoding": {
  "x": {"field": "t", "type": "quantitative", "scale": {"type": "log", "domain": [100, 100000000]},
   "axis": {"orient": "bottom", "values": [100,200,300,400,500,600,700,800,900,1000,2000,3000,4000,5000,6000,7000,8000,9000,10000,20000,30000,40000,50000,60000,70000,80000,90000,100000,200000,300000,400000,500000,600000,700000,800000,900000,1000000,2000000,3000000,4000000,5000000,6000000,7000000,8000000,9000000,10000000,20000000,30000000,40000000,50000000,60000000,70000000,80000000,90000000,100000000],
    "labelExpr": "abs(log(datum.value)/LN10 - round(log(datum.value)/LN10)) < 0.01 ? '10' + ['⁰','¹','²','³','⁴','⁵','⁶','⁷','⁸'][round(log(datum.value)/LN10)] : ''",
    "tickSize": {"condition": {"test": "abs(log(datum.value)/LN10 - round(log(datum.value)/LN10)) < 0.01", "value": -6}, "value": -3},
    "tickColor": "#707070", "domain": false, "grid": false, "labelPadding": 17, "labelFontSize": 12.5, "labelColor": "#000", "labelOverlap": false, "labelFlush": false, "labelBound": false,
    "title": "time  (yr)", "titleFontSize": 13.5, "titleFontWeight": "normal", "titleColor": "#000", "titlePadding": 1}},
  "y": {"field": "X", "type": "quantitative", "scale": {"type": "log", "domain": [1e-15, 1e-7]},
   "axis": {"orient": "left", "values": [1e-15,1e-14,1e-13,1e-12,1e-11,1e-10,1e-9,1e-8,1e-7],
    "labelExpr": "round(log(datum.value)/LN10) == -14 ? '10⁻¹⁴' : round(log(datum.value)/LN10) == -12 ? '10⁻¹²' : round(log(datum.value)/LN10) == -10 ? '10⁻¹⁰' : round(log(datum.value)/LN10) == -8 ? '10⁻⁸' : ''",
    "tickSize": -5, "tickColor": "#707070", "domain": false, "grid": false, "labelPadding": 9, "labelFontSize": 12.5, "labelColor": "#000", "labelOverlap": false, "labelFlush": false, "labelBound": false, "title": null}},
  "color": {"field": "model", "type": "nominal", "scale": {"domain": ["A","B","C","D"], "range": ["#000000","#ff0000","#a0a0a0","#0000ff"]}, "legend": null},
  "strokeDash": {"field": "run", "type": "nominal", "scale": {"domain": ["a","b"], "range": [[1,0],[6,4]]}, "legend": null}
 }},
{"data": {"name": "species"}, "transform": [{"filter": "datum.panel === 'NH3'"}],
 "mark": {"type": "rule", "color": "#000000", "strokeWidth": 1.2},
 "encoding": {
  "x": {"datum": 100, "type": "quantitative", "axis": {"orient": "top", "values": [100,200,300,400,500,600,700,800,900,1000,2000,3000,4000,5000,6000,7000,8000,9000,10000,20000,30000,40000,50000,60000,70000,80000,90000,100000,200000,300000,400000,500000,600000,700000,800000,900000,1000000,2000000,3000000,4000000,5000000,6000000,7000000,8000000,9000000,10000000,20000000,30000000,40000000,50000000,60000000,70000000,80000000,90000000,100000000], "labels": false, "domain": false, "grid": false, "title": null, "tickColor": "#707070", "tickSize": {"condition": {"test": "abs(log(datum.value)/LN10 - round(log(datum.value)/LN10)) < 0.01", "value": -6}, "value": -3}}},
  "x2": {"datum": 100000000},
  "y": {"field": "Xobs", "type": "quantitative", "axis": {"orient": "right", "values": [1e-15,1e-14,1e-13,1e-12,1e-11,1e-10,1e-9,1e-8,1e-7], "labels": false, "domain": false, "grid": false, "title": null, "tickColor": "#707070", "tickSize": -5}}
 }},
{"data": {"name": "species"}, "transform": [{"filter": "datum.panel === 'NH3'"}],
 "mark": {"type": "text", "align": "left", "baseline": "middle", "fontSize": 14, "color": "#000"},
 "encoding": {
  "x": {"datum": 1000, "type": "quantitative", "axis": null},
  "y": {"datum": 1.6e-8, "type": "quantitative", "axis": null},
  "text": {"field": "species"}
 }}
],
"resolve": {"axis": {"x": "independent", "y": "independent"}}
},
{
"width": 198.5, "height": 145.5,
"layer": [
{"data": {"name": "curves"}, "transform": [{"filter": "datum.panel === 'NH+'"}],
 "mark": {"type": "line", "strokeWidth": 1.3, "clip": true},
 "encoding": {
  "x": {"field": "t", "type": "quantitative", "scale": {"type": "log", "domain": [100, 100000000]},
   "axis": {"orient": "bottom", "values": [100,200,300,400,500,600,700,800,900,1000,2000,3000,4000,5000,6000,7000,8000,9000,10000,20000,30000,40000,50000,60000,70000,80000,90000,100000,200000,300000,400000,500000,600000,700000,800000,900000,1000000,2000000,3000000,4000000,5000000,6000000,7000000,8000000,9000000,10000000,20000000,30000000,40000000,50000000,60000000,70000000,80000000,90000000,100000000],
    "labelExpr": "abs(log(datum.value)/LN10 - round(log(datum.value)/LN10)) < 0.01 ? '10' + ['⁰','¹','²','³','⁴','⁵','⁶','⁷','⁸'][round(log(datum.value)/LN10)] : ''",
    "tickSize": {"condition": {"test": "abs(log(datum.value)/LN10 - round(log(datum.value)/LN10)) < 0.01", "value": -6}, "value": -3},
    "tickColor": "#707070", "domain": false, "grid": false, "labelPadding": 17, "labelFontSize": 12.5, "labelColor": "#000", "labelOverlap": false, "labelFlush": false, "labelBound": false,
    "title": "time  (yr)", "titleFontSize": 13.5, "titleFontWeight": "normal", "titleColor": "#000", "titlePadding": 1}},
  "y": {"field": "X", "type": "quantitative", "scale": {"type": "log", "domain": [1e-15, 1e-7]},
   "axis": {"orient": "left", "values": [1e-15,1e-14,1e-13,1e-12,1e-11,1e-10,1e-9,1e-8,1e-7],
    "labelExpr": "round(log(datum.value)/LN10) == -14 ? '10⁻¹⁴' : round(log(datum.value)/LN10) == -12 ? '10⁻¹²' : round(log(datum.value)/LN10) == -10 ? '10⁻¹⁰' : round(log(datum.value)/LN10) == -8 ? '10⁻⁸' : ''",
    "tickSize": -5, "tickColor": "#707070", "domain": false, "grid": false, "labelPadding": 9, "labelFontSize": 12.5, "labelColor": "#000", "labelOverlap": false, "labelFlush": false, "labelBound": false,
    "title": "Xᵢ", "titleFontSize": 15, "titleFontWeight": "normal", "titleColor": "#000", "titlePadding": 18}},
  "color": {"field": "model", "type": "nominal", "scale": {"domain": ["A","B","C","D"], "range": ["#000000","#ff0000","#a0a0a0","#0000ff"]}, "legend": null},
  "strokeDash": {"field": "run", "type": "nominal", "scale": {"domain": ["a","b"], "range": [[1,0],[6,4]]}, "legend": null}
 }},
{"data": {"name": "species"}, "transform": [{"filter": "datum.panel === 'NH+'"}],
 "mark": {"type": "rule", "color": "#707070", "strokeWidth": 1.3, "strokeDash": [6, 4]},
 "encoding": {
  "x": {"datum": 100, "type": "quantitative", "axis": {"orient": "top", "values": [100,200,300,400,500,600,700,800,900,1000,2000,3000,4000,5000,6000,7000,8000,9000,10000,20000,30000,40000,50000,60000,70000,80000,90000,100000,200000,300000,400000,500000,600000,700000,800000,900000,1000000,2000000,3000000,4000000,5000000,6000000,7000000,8000000,9000000,10000000,20000000,30000000,40000000,50000000,60000000,70000000,80000000,90000000,100000000], "labels": false, "domain": false, "grid": false, "title": null, "tickColor": "#707070", "tickSize": {"condition": {"test": "abs(log(datum.value)/LN10 - round(log(datum.value)/LN10)) < 0.01", "value": -6}, "value": -3}}},
  "x2": {"datum": 100000000},
  "y": {"field": "Xobs", "type": "quantitative", "axis": {"orient": "right", "values": [1e-15,1e-14,1e-13,1e-12,1e-11,1e-10,1e-9,1e-8,1e-7], "labels": false, "domain": false, "grid": false, "title": null, "tickColor": "#707070", "tickSize": -5}}
 }},
{"data": {"name": "species"}, "transform": [{"filter": "datum.panel === 'NH+'"}],
 "mark": {"type": "text", "align": "left", "baseline": "middle", "fontSize": 14, "color": "#000"},
 "encoding": {
  "x": {"datum": 1000, "type": "quantitative", "axis": null},
  "y": {"datum": 1.6e-8, "type": "quantitative", "axis": null},
  "text": {"field": "species"}
 }}
],
"resolve": {"axis": {"x": "independent", "y": "independent"}}
}
]
}
